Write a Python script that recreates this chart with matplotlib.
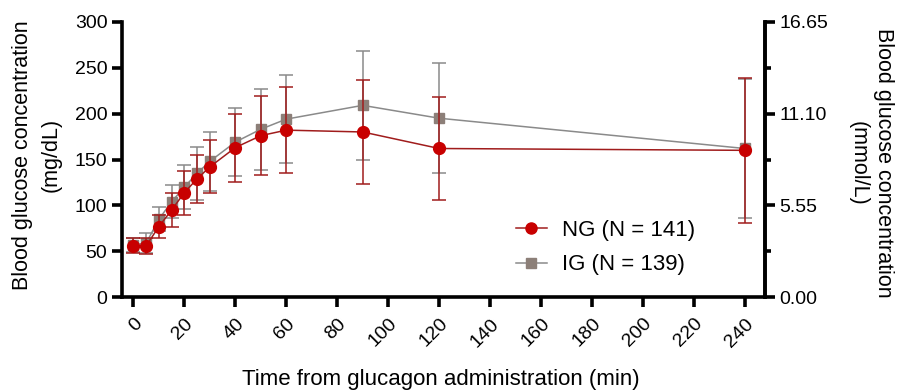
import numpy as np
import matplotlib
matplotlib.use('Agg')
from matplotlib import pyplot as plt
from matplotlib.ticker import MultipleLocator
from matplotlib.lines import Line2D

plt.rcParams['font.family'] = ['Liberation Sans', 'DejaVu Sans']

# sampling times (min)
t = [0, 5, 10, 15, 20, 25, 30, 40, 50, 60, 90, 120, 240]

# NG group, mean and SD (mg/dL)
ng_mean = [56, 56, 77, 95, 114, 129, 142, 163, 176, 182, 180, 162, 160]
ng_sd = [8, 9, 12, 18, 24, 26, 29, 37, 43, 47, 57, 56, 79]

# IG group, mean and SD (mg/dL)
ig_mean = [57, 59, 85, 104, 120, 135, 148, 169, 183, 194, 209, 195, 162]
ig_sd = [8, 11, 13, 18, 24, 29, 32, 37, 44, 48, 59, 60, 76]

xticks = list(range(0, 241, 20))
mmol_ticks = [0.00, 5.55, 11.10, 16.65]

red_mk = '#c80000'
red_ln = '#a01c1c'
gray_mk = '#8c7f78'
gray_ln = '#8a8a8a'

fig = plt.figure(figsize=(8.97, 3.9), dpi=100)
ax = fig.add_axes([0.136, 0.238, 0.717, 0.706])

ax.errorbar(t, ig_mean, yerr=ig_sd, color=gray_ln, ecolor=gray_ln,
            marker='s', markersize=7.5, markerfacecolor=gray_mk,
            markeredgecolor=gray_mk, lw=1.1, elinewidth=1.1, capsize=5,
            capthick=1.1, zorder=2)
ax.errorbar(t, ng_mean, yerr=ng_sd, color=red_ln, ecolor=red_ln,
            marker='o', markersize=8.5, markerfacecolor=red_mk,
            markeredgecolor=red_mk, lw=1.1, elinewidth=1.1, capsize=5,
            capthick=1.1, zorder=3)

ax.set_xlim(-4.5, 248)
ax.set_ylim(0, 300)
ax.set_yticks(range(0, 301, 50))
ax.set_xticks(xticks)
ax.set_xticklabels([str(v) for v in xticks], rotation=45, ha='right',
                   rotation_mode='anchor')

for s in ['left', 'bottom', 'right']:
    ax.spines[s].set_linewidth(2.6)
ax.spines['top'].set_visible(False)
ax.tick_params(width=2.6, length=7, labelsize=14)
ax.tick_params(axis='x', pad=6)

ax.set_xlabel('Time from glucagon administration (min)', fontsize=16)
ax.xaxis.set_label_coords(0.495, -0.262)

ax2 = ax.twinx()
ax2.set_ylim(0, 300 / 18.018)
ax2.set_yticks(mmol_ticks)
ax2.set_yticklabels(['%.2f' % v for v in mmol_ticks])
ax2.yaxis.set_minor_locator(MultipleLocator(2.775))
ax2.spines['right'].set_linewidth(2.6)
ax2.spines['top'].set_visible(False)
ax2.spines['left'].set_visible(False)
ax2.spines['bottom'].set_visible(False)
ax2.tick_params(which='major', width=2.6, length=7, labelsize=14)
ax2.tick_params(which='minor', width=2.6, length=4)

fig.text(37 / 897, 1 - 155 / 390, 'Blood glucose concentration\n(mg/dL)',
         rotation=90, ha='center', va='center', fontsize=15.5,
         multialignment='center', linespacing=1.45)
fig.text(871 / 897, 1 - 163 / 390, 'Blood glucose concentration\n(mmol/L)',
         rotation=270, ha='center', va='center', fontsize=15.5,
         multialignment='center', linespacing=1.3)

handles = [
    Line2D([], [], color=red_ln, lw=1.1, marker='o', markersize=8,
           markerfacecolor=red_mk, markeredgecolor=red_mk),
    Line2D([], [], color=gray_ln, lw=1.1, marker='s', markersize=7,
           markerfacecolor=gray_mk, markeredgecolor=gray_mk),
]
ax.legend(handles, ['NG (N = 141)', 'IG (N = 139)'], loc='upper left',
          bbox_to_anchor=(0.612, 0.28), borderpad=0, borderaxespad=0,
          frameon=False, fontsize=16, handlelength=1.4, handletextpad=0.7,
          labelspacing=0.6)

fig.savefig('out.png', dpi=100)
